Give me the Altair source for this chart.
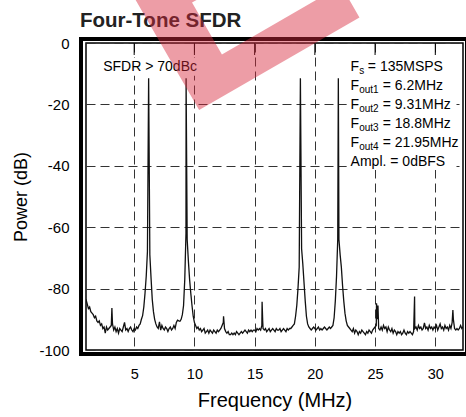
import altair as alt
import numpy as np
import pandas as pd

FONT = "Liberation Sans"
W, H = 377, 307

freq_grid = np.round(np.arange(1.0, 32.35, 0.1), 1)  # 1.0 ... 32.3
floor_db = [
    -83.5, -85.0, -86.5, -86.0, -87.5, -88.0, -88.5, -89.5, -89.0, -90.5,   # 1.x
    -91.0, -90.5, -92.0, -91.5, -93.0, -92.5, -94.5, -92.5, -93.5, -93.0,   # 2.x
    -92.5, -92.0, -91.5, -93.5, -92.5, -94.0, -93.0, -94.5, -93.0, -93.5,   # 3.x
    -94.0, -92.5, -91.0, -93.5, -93.0, -94.0, -93.0, -92.5, -93.5, -94.0,   # 4.x
    -93.0, -93.5, -92.5, -93.0, -92.0, -91.5, -90.0, -88.8, -86.0, -81.5,   # 5.x
    -76.0, -68.0, None, -69.0, -76.5, -83.5, -87.5, -90.0, -91.5, -92.5,    # 6.x
    -93.0, -90.8, -93.5, -92.0, -93.0, -93.5, -92.5, -93.0, -94.0, -93.0,   # 7.x
    -92.5, -93.5, -93.0, -92.0, -93.0, -91.0, -90.3, -90.5, -90.6, -90.0,   # 8.x
    -88.5, -85.5, -77.0, -62.0, -64.0, -71.0, -77.0, -81.5, -85.5, -89.0,   # 9.x
    -91.0, -92.0, -93.0, -92.5, -93.5, -93.0, -94.0, -93.5, -93.0, -94.5,   # 10.x
    -94.0, -93.5, -94.5, -93.5, -94.0, -94.5, -93.5, -94.0, -94.5, -93.5,   # 11.x
    -94.0, -93.5, -93.0, -92.0, -91.0, -93.0, -94.0, -94.5, -94.0, -95.0,   # 12.x
    -95.0, -94.5, -95.0, -94.5, -95.0, -94.0, -94.5, -95.0, -94.5, -94.0,   # 13.x
    -94.5, -94.0, -93.5, -94.0, -94.5, -93.5, -94.0, -93.5, -94.0, -93.5,   # 14.x
    -93.5, -94.0, -93.0, -93.5, -93.0, -93.5, -92.0, -93.0, -93.5, -93.0,   # 15.x
    -94.0, -93.5, -93.0, -94.0, -93.5, -93.0, -93.5, -94.0, -93.0, -93.5,   # 16.x
    -93.5, -93.0, -94.0, -93.5, -93.0, -93.5, -94.0, -93.0, -93.5, -93.0,   # 17.x
    -93.0, -92.5, -92.0, -91.5, -89.0, -85.5, -80.0, -73.0, None, -67.0,    # 18.x
    -72.0, -78.0, -84.0, -89.0, -91.5, -92.5, -93.0, -93.5, -93.0, -92.5,   # 19.x
    -93.0, -93.5, -93.0, -92.5, -93.5, -93.0, -93.5, -93.0, -92.5, -93.0,   # 20.x
    -93.5, -93.0, -92.5, -93.0, -92.5, -92.0, -89.5, -84.0, -76.0, -64.0,   # 21.x
    -64.0, -69.0, -73.0, -79.0, -84.0, -88.0, -90.5, -92.0, -92.5, -93.0,   # 22.x
    -93.5, -94.0, -93.0, -94.5, -93.5, -94.0, -95.0, -94.0, -94.5, -93.5,   # 23.x
    -94.0, -94.5, -95.0, -94.0, -94.5, -93.5, -94.0, -94.5, -93.5, -93.0,   # 24.x
    -92.5, -92.0, -90.0, -93.0, -93.5, -92.5, -93.5, -92.0, -93.0, -92.5,   # 25.x
    -94.0, -92.5, -93.5, -94.0, -93.0, -94.5, -93.5, -94.0, -95.0, -94.0,   # 26.x
    -94.5, -94.0, -95.0, -94.5, -93.5, -94.5, -95.0, -94.0, -94.5, -94.0,   # 27.x
    -94.5, -95.0, -94.0, -93.0, -92.5, -93.5, -92.0, -93.0, -92.5, -93.5,   # 28.x
    -93.0, -91.2, -93.0, -92.5, -93.5, -92.0, -93.0, -92.5, -93.5, -92.5,   # 29.x
    -93.0, -92.0, -93.5, -92.5, -91.5, -93.0, -92.5, -93.5, -92.0, -93.0,   # 30.x
    -92.5, -93.5, -92.0, -93.0, -91.0, -90.0, -93.0, -93.5, -93.0, -93.5,   # 31.x
    -93.0, -92.0, -93.0, -92.5,                                             # 32.x
]

# the four tones and the spurs
tone_freq = [6.2, 9.31, 18.8, 21.95]
tone_db = [-11.5, -11.5, -11.5, -11.5]
spur_freq = [3.15, 12.42, 15.62, 15.67, 25.12, 25.24, 28.28, 31.46]
spur_db = [-86.3, -89.0, -84.3, -90.5, -84.8, -85.5, -82.6, -87.0]

x_ticks = [5, 10, 15, 20, 25, 30]
y_ticks = [0, -20, -40, -60, -80, -100]

# annotation block
ann_main = ["F", "F", "F", "F", "F", "Ampl. = 0dBFS"]
ann_sub = ["s", "out1", "out2", "out3", "out4", ""]
ann_rest = ["= 135MSPS", "= 6.2MHz", "= 9.31MHz", "= 18.8MHz", "= 21.95MHz", ""]
ann_db = [-9.1, -15.3, -21.5, -27.7, -33.9, -40.1]
ann_f = 22.97

floor = pd.DataFrame({"f": freq_grid, "db": pd.array(floor_db, dtype="Float64")}).dropna()
floor["db"] = floor["db"].astype(float)
peaks = pd.DataFrame({"f": tone_freq + spur_freq, "db": tone_db + spur_db})
spec = pd.concat([floor, peaks]).sort_values("f").reset_index(drop=True)

xscale = alt.Scale(domain=[1.0, 32.3], nice=False, zero=False)
yscale = alt.Scale(domain=[-100, 0], nice=False, zero=False)

X_AX = alt.Axis(
    values=x_ticks, title="Frequency (MHz)", grid=True, gridDash=[9, 5],
    gridColor="#333", gridWidth=1, ticks=False, domain=False,
    labelFont=FONT, labelFontSize=14.5, labelPadding=17, labelColor="black",
    titleFont=FONT, titleFontSize=20, titleFontWeight="normal",
    titleColor="black", titlePadding=10)
Y_AX = alt.Axis(
    values=y_ticks, title="Power (dB)", grid=True, gridDash=[9, 5],
    gridColor="#333", gridWidth=1, ticks=False, domain=False,
    labelExpr="'' + datum.value",
    labelFont=FONT, labelFontSize=15, labelPadding=17, labelColor="black",
    titleFont=FONT, titleFontSize=18, titleFontWeight="normal",
    titleColor="black", titlePadding=8)

def X(field="f"):
    return alt.X(f"{field}:Q", scale=xscale, axis=X_AX)

def Y(field="db"):
    return alt.Y(f"{field}:Q", scale=yscale, axis=Y_AX)

line = alt.Chart(spec).mark_line(color="#111", strokeWidth=1.3, clip=True).encode(x=X(), y=Y())

ticks_top = alt.Chart(pd.DataFrame({"f": x_ticks})).mark_rule(color="black", strokeWidth=1).encode(
    x=X(), y=alt.value(0), y2=alt.value(12))

boxes = pd.DataFrame({"f": [2.24, 22.64], "f2": [10.37, 31.76],
                      "db": [-4.9, -4.2], "db2": [-10.7, -41.4]})
white_boxes = alt.Chart(boxes).mark_rect(color="white").encode(
    x=X(), x2="f2", y=Y(), y2="db2")

ann = pd.DataFrame({"f": ann_f, "db": ann_db, "m": ann_main, "s": ann_sub, "r": ann_rest})

def txt(df, col, size, dx=0, dy=0):
    return alt.Chart(df).mark_text(font=FONT, fontSize=size, align="left",
                                   baseline="alphabetic", color="black", dx=dx, dy=dy).encode(
        x=X(), y=Y(), text=f"{col}:N")

t_main = txt(ann, "m", 14)
t_sub = txt(ann.iloc[:5], "s", 10, dx=8.6, dy=3)
t_rest0 = txt(ann.iloc[[0]], "r", 14, dx=17.2)
t_rest1 = txt(ann.iloc[1:5], "r", 14, dx=32.1)

sfdr = pd.DataFrame({"f": [2.43], "db": [-9.1], "m": ["SFDR > 70dBc"]})
t_sfdr = txt(sfdr, "m", 14)

frame = alt.Chart(pd.DataFrame({"a": [0]})).mark_rect(
    fill="transparent", stroke="black", strokeWidth=4).encode(
    x=alt.value(-5), x2=alt.value(W + 4), y=alt.value(-4), y2=alt.value(H + 4))

title = alt.Chart(pd.DataFrame({"t": ["Four-Tone SFDR"]})).mark_text(
    font=FONT, fontSize=20.5, fontWeight="bold", align="left", baseline="middle",
    color="#222").encode(x=alt.value(-6), y=alt.value(-22), text="t:N")

watermark = alt.Chart(pd.DataFrame({"t": ["E"]})).mark_text(
    font=FONT, fontSize=330, fontWeight="bold", align="left", baseline="alphabetic",
    angle=330, color="#d8283c", opacity=0.45).encode(
    x=alt.value(94), y=alt.value(78), text="t:N")

chart = alt.layer(
    line, ticks_top, white_boxes, t_main, t_sub, t_rest0, t_rest1, t_sfdr, frame, title, watermark
).properties(
    width=W, height=H,
    autosize=alt.AutoSizeParams(type="none"),
    padding={"left": 86, "top": 43, "right": 3, "bottom": 67},
    background="white",
).configure_view(stroke="black", strokeWidth=1.5)

chart.save("out.html", embed_options={"renderer": "svg", "actions": False})
